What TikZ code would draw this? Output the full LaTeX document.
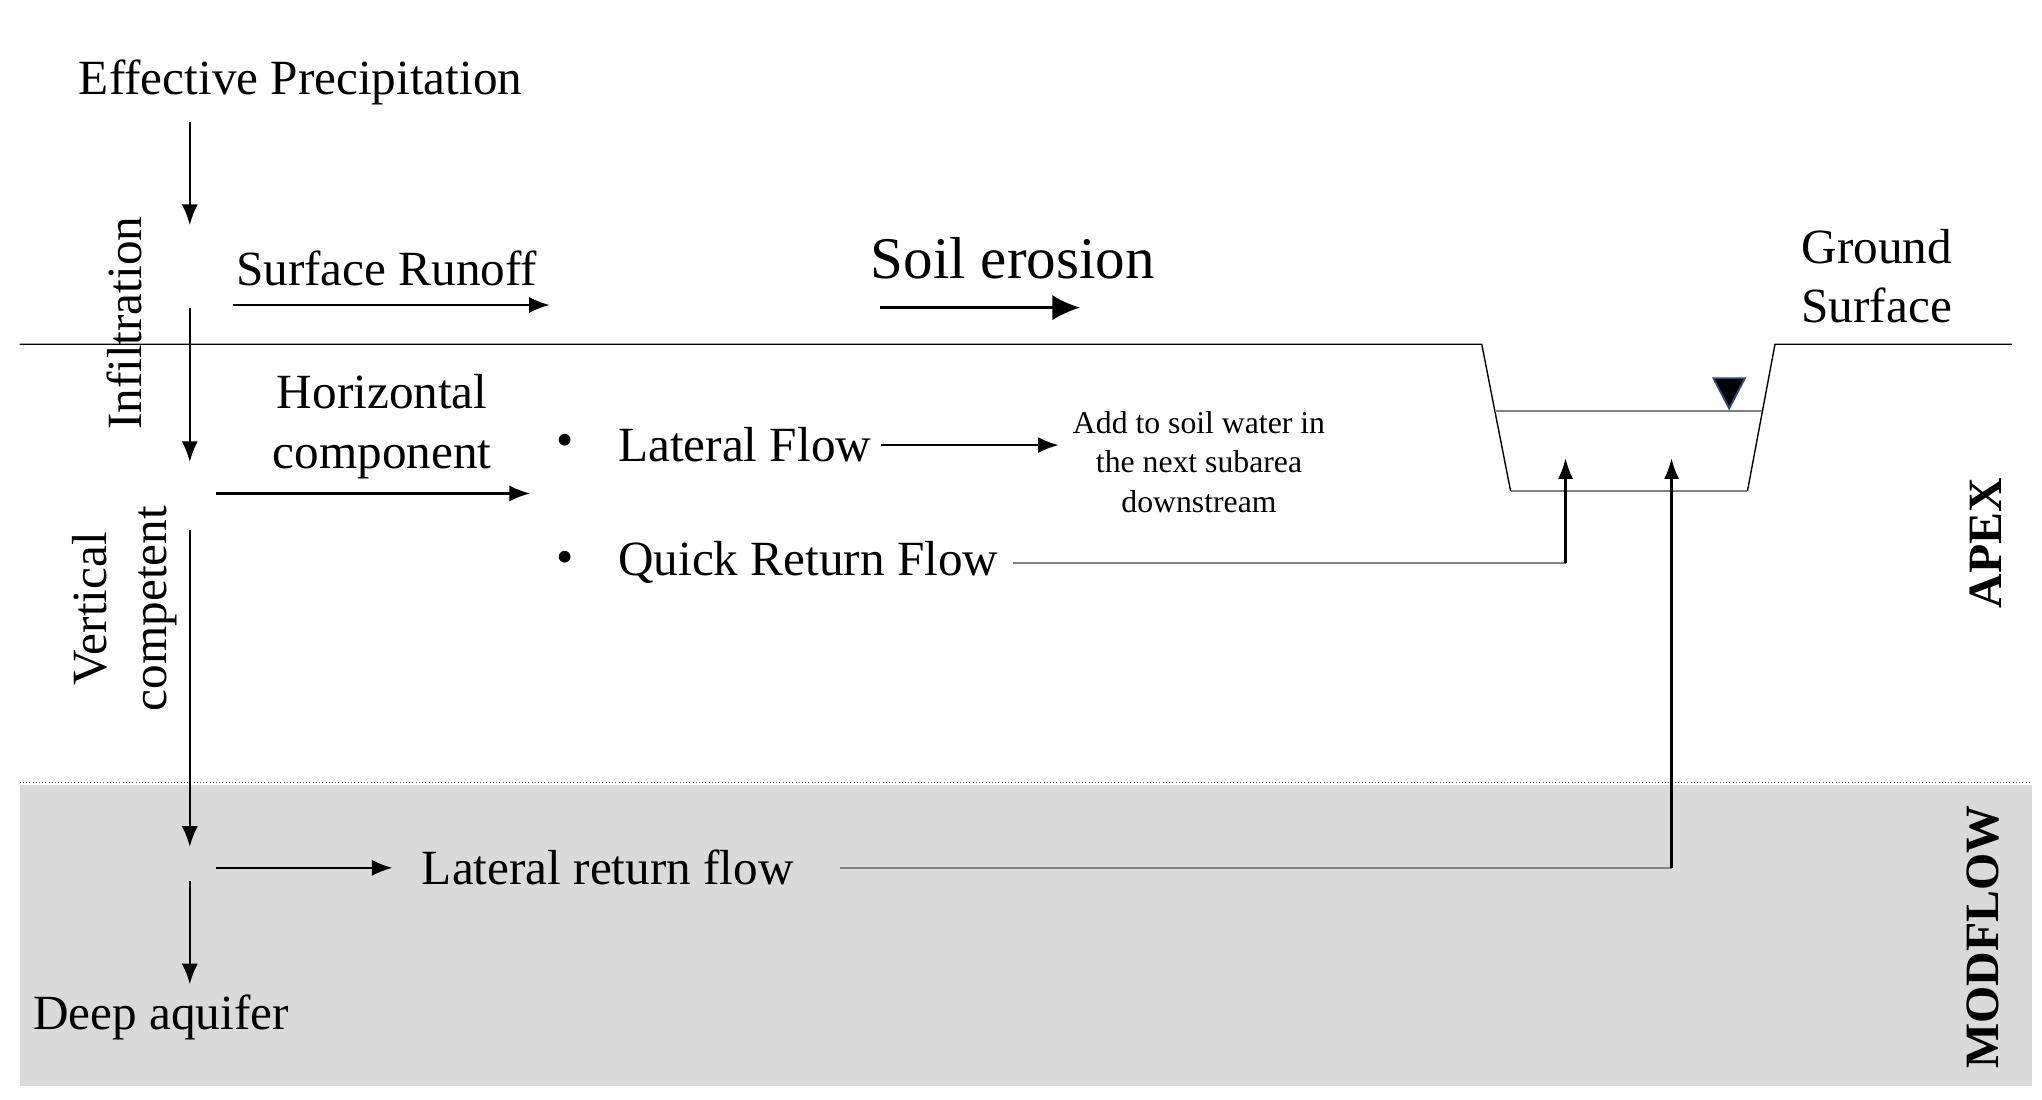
\documentclass[tikz,border=0pt]{standalone}
\usepackage{fontspec}
\setmainfont{Liberation Serif}
\usepackage{xcolor}
\usetikzlibrary{arrows.meta,positioning}
\definecolor{soilgray}{RGB}{218,218,218}
\definecolor{linegray}{RGB}{128,128,128}
\definecolor{markblue}{RGB}{47,74,122}
\tikzset{
	txt/.style={inner sep=0pt, font=\fontsize{21.4}{26}\selectfont},
	note/.style={inner sep=0pt, align=center, font=\fontsize{13.8}{17}\selectfont},
	flow/.style={-{Latex[length=9pt,width=7pt]}, line width=1pt},
	bigflow/.style={-{Latex[length=12pt,width=11pt]}, line width=1pt},
	upflow/.style={-{Latex[length=9pt,width=6.5pt]}, line width=1pt},
	feed/.style={linegray, line width=1pt}
}

\begin{document}
\begin{tikzpicture}[x=0.02cm, y=-0.02cm]
	\useasboundingbox (0,0) rectangle (1560,840);

	% MODFLOW layer
	\fill[soilgray] (15,600) rectangle (1552,830);
	\draw[black!60, densely dotted] (15,598) -- (1552,598);

	% ground surface and channel
	\draw[line width=0.6pt] (15,263) -- (1132,263) -- (1154,375);
	\draw[line width=0.6pt] (1335,375) -- (1356,263) -- (1537,263);
	\draw[linegray, line width=0.8pt] (1154,375) -- (1335,375);
	\draw[linegray, line width=0.8pt] (1142,314) -- (1346,314);
	\filldraw[fill=black, draw=markblue, line width=0.8pt] (1309,289) -- (1333,289) -- (1321,312) -- cycle;

	% labels
	\node[txt, anchor=west] (prec) at (60,63) {Effective Precipitation};
	\node[txt, rotate=90] (infil) at (95,247) {Infiltration};
	\node[txt, anchor=west] (runoff) at (180,205) {Surface Runoff};
	\node[txt, anchor=west, font=\fontsize{25.7}{30}\selectfont] (erosion) at (665,197) {Soil erosion};
	\node[txt, anchor=west, align=left, font=\fontsize{21.4}{25.5}\selectfont] (ground) at (1376,211) {Ground\\Surface};
	\node[txt, align=center] (horiz) at (292,326) {Horizontal\\component};
	\node[txt, anchor=west] (lat) at (472,340) {Lateral Flow};
	\node[txt, left=19pt of lat] (bul1) {\textbullet};
	\node[txt, anchor=west] (quick) at (472,430) {Quick Return Flow};
	\node[txt, left=19pt of quick] (bul2) {\textbullet};
	\node[note] (add) at (916,353) {Add to soil water in\\the next subarea\\downstream};
	\node[txt, rotate=90, align=center] (vert) at (95,465) {Vertical\\competent};
	\node[txt, anchor=west] (lret) at (322,663) {Lateral return flow};
	\node[txt, anchor=west] (deep) at (25,777) {Deep aquifer};
	\node[txt, rotate=90, font=\fontsize{20.8}{25}\selectfont\bfseries] (apex) at (1517,415) {APEX};
	\node[txt, rotate=90, font=\fontsize{20.8}{25}\selectfont\bfseries] (modflow) at (1515,716) {MODFLOW};

	% arrow end points
	\coordinate (p1) at (145,93);
	\coordinate (p2) at (145,172);
	\coordinate (i1) at (145,235);
	\coordinate (i2) at (145,353);
	\coordinate (v1) at (145,405);
	\coordinate (v2) at (145,647);
	\coordinate (d1) at (145,673);
	\coordinate (d2) at (145,752);
	\coordinate (r1) at (178,233);
	\coordinate (r2) at (420,233);
	\coordinate (e1) at (672,235);
	\coordinate (e2) at (825,235);
	\coordinate (h1) at (165,377);
	\coordinate (h2) at (405,377);
	\coordinate (l1) at (165,663);
	\coordinate (l2) at (300,663);
	\coordinate (qup) at (1196,350);
	\coordinate (rup) at (1277,350);

	% flows
	\draw[flow] (p1) -- (p2);
	\draw[flow] (i1) -- (i2);
	\draw[flow] (v1) -- (v2);
	\draw[flow] (d1) -- (d2);
	\draw[flow] (r1) -- (r2);
	\draw[bigflow] (e1) -- (e2);
	\draw[flow] (h1) -- (h2);
	\draw[flow] (l1) -- (l2);
	\draw[flow] ([xshift=4pt]lat.east) -- ([xshift=-6pt]lat.east -| add.west);

	% return flows to the channel
	\draw[feed] ([xshift=6pt]quick.east) -- (quick.east -| qup);
	\draw[upflow] (quick.east -| qup) -- (qup);
	\draw[feed] ([xshift=20pt]lret.east) -- (lret.east -| rup);
	\draw[upflow] (lret.east -| rup) -- (rup);
\end{tikzpicture}
\end{document}
